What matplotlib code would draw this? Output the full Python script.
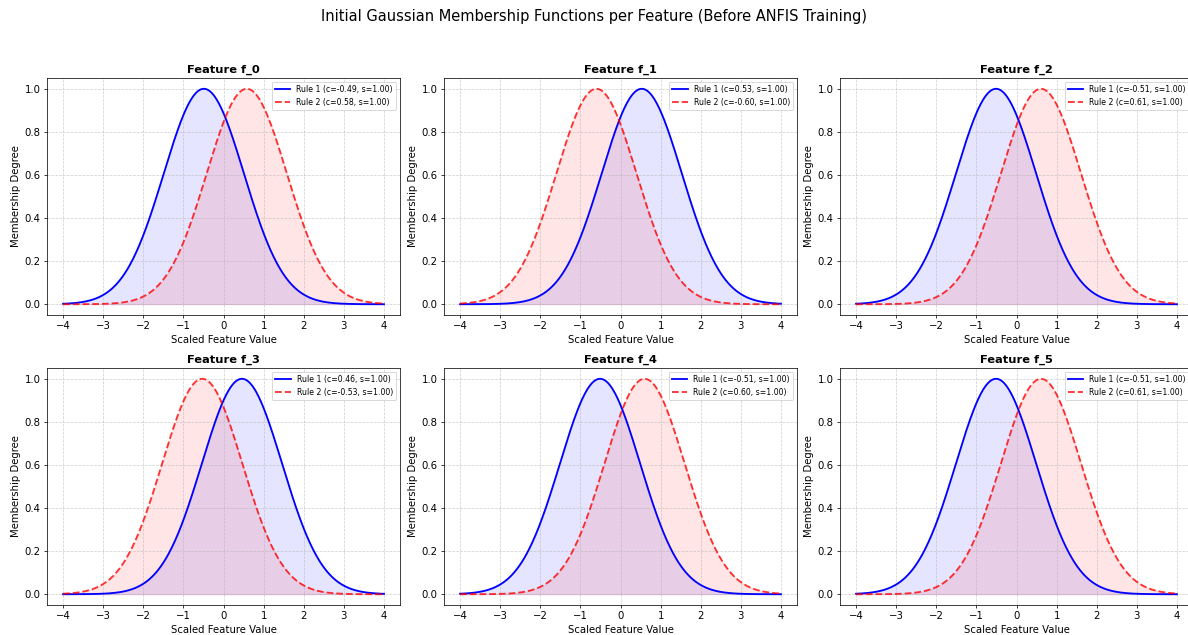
import numpy as np
import matplotlib
matplotlib.use("Agg")
import matplotlib.pyplot as plt

features = ["f_0", "f_1", "f_2", "f_3", "f_4", "f_5"]
rule1_c = [-0.49, 0.53, -0.51, 0.46, -0.51, -0.51]
rule2_c = [0.58, -0.60, 0.61, -0.53, 0.60, 0.61]
rule1_s = [1.00, 1.00, 1.00, 1.00, 1.00, 1.00]
rule2_s = [1.00, 1.00, 1.00, 1.00, 1.00, 1.00]

x = np.linspace(-4, 4, 400)

def gauss(x, c, s):
    return np.exp(-0.5 * ((x - c) / s) ** 2)

W, H = 1188, 635
fig = plt.figure(figsize=(W / 66, H / 66), dpi=66)
lefts = [47, 444, 840]
tops = [78, 368]
aw, ah = 353, 237
for i in range(6):
    r, c = divmod(i, 3)
    ax = fig.add_axes([lefts[c] / W, 1 - (tops[r] + ah) / H, aw / W, ah / H])
    y1 = gauss(x, rule1_c[i], rule1_s[i])
    y2 = gauss(x, rule2_c[i], rule2_s[i])
    ax.plot(x, y1, color="blue", lw=2, label=f"Rule 1 (c={rule1_c[i]:.2f}, s={rule1_s[i]:.2f})")
    ax.fill_between(x, y1, color="blue", alpha=0.1)
    ax.plot(x, y2, color="red", ls="--", lw=2, alpha=0.8, label=f"Rule 2 (c={rule2_c[i]:.2f}, s={rule2_s[i]:.2f})")
    ax.fill_between(x, y2, color="red", alpha=0.1)
    ax.set_title(f"Feature {features[i]}", fontweight="bold", fontsize=12.5)
    ax.set_xlabel("Scaled Feature Value", fontsize=11)
    ax.set_ylabel("Membership Degree", fontsize=11)
    ax.tick_params(labelsize=11)
    ax.grid(True, linestyle="--", alpha=0.6)
    ax.legend(fontsize=8.5, loc="upper right")

fig.suptitle("Initial Gaussian Membership Functions per Feature (Before ANFIS Training)", fontsize=16, y=1 - 16 / H, va="center")
fig.savefig("out.png", dpi=66)
